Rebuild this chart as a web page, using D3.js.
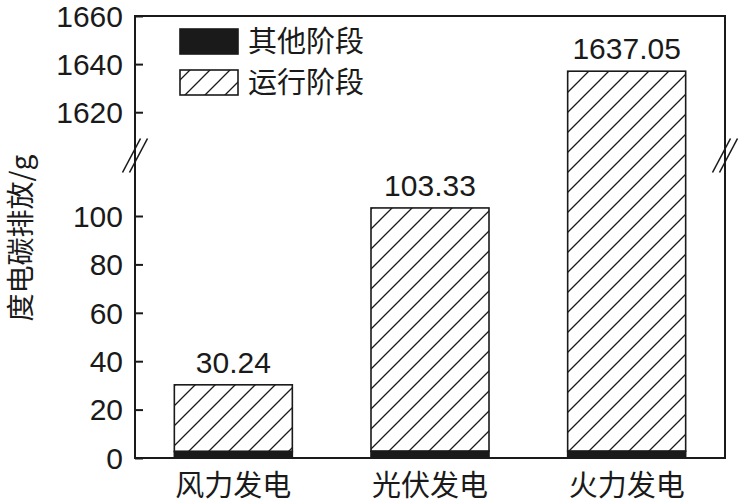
<!DOCTYPE html>
<html><head><meta charset="utf-8">
<script src="https://cdn.jsdelivr.net/npm/d3@7"></script>
<style>body{margin:0;background:#fff}svg{display:block}</style>
</head><body>
<svg id="c" width="742" height="504"></svg>
<script>
const categories = ["风力发电", "光伏发电", "火力发电"];
const totalValues = [30.24, 103.33, 1637.05];
const otherStage = [2.7, 2.8, 2.8];
const seriesNames = ["其他阶段", "运行阶段"];
const lowerTicks = [0, 20, 40, 60, 80, 100];
const upperTicks = [1620, 1640, 1660];

const svg = d3.select("#c");
const L = 135, R = 725, T = 16, B = 458;
const font = "'Liberation Sans', Arial, 'Noto Sans CJK SC', sans-serif";
const cjk = "'Noto Sans CJK SC', 'Liberation Sans', sans-serif";
const ink = "#1a1a1a";

// broken y scale: lower segment 0..125, upper 1602..1660
const y = d3.scaleLinear().domain([0, 125, 1602, 1660]).range([B, 155.5, 155.5, T]);
const x = d3.scaleBand().domain(categories).range([L, R]).paddingInner(0.4).paddingOuter(0.2);

const defs = svg.append("defs");
const pat = defs.append("pattern").attr("id", "hatch").attr("patternUnits", "userSpaceOnUse")
  .attr("width", 20).attr("height", 20);
pat.append("rect").attr("width", 20).attr("height", 20).attr("fill", "#fff");
pat.append("path").attr("d", "M-5,5 L5,-5 M0,20 L20,0 M15,25 L25,15")
  .attr("stroke", ink).attr("stroke-width", 1.3);

const data = categories.map((c, i) => ({c, other: otherStage[i], total: totalValues[i]}));

// hatched (运行阶段)
svg.selectAll("rect.run").data(data).join("rect").attr("class", "run")
  .attr("x", d => x(d.c)).attr("width", x.bandwidth())
  .attr("y", d => y(d.total)).attr("height", d => y(d.other) - y(d.total))
  .attr("fill", "url(#hatch)").attr("stroke", ink).attr("stroke-width", 1.6);
// black (其他阶段)
svg.selectAll("rect.oth").data(data).join("rect").attr("class", "oth")
  .attr("x", d => x(d.c)).attr("width", x.bandwidth())
  .attr("y", d => y(d.other)).attr("height", d => y(0) - y(d.other))
  .attr("fill", ink).attr("stroke", ink).attr("stroke-width", 1.6);

// value labels
svg.selectAll("text.val").data(data).join("text").attr("class", "val")
  .attr("x", d => x(d.c) + x.bandwidth() / 2).attr("y", d => y(d.total) - 12)
  .attr("text-anchor", "middle").attr("font-family", font).attr("font-size", 30).attr("fill", ink)
  .text(d => d.total.toFixed(2));

// frame
const frame = svg.append("g").attr("stroke", ink).attr("stroke-width", 2).attr("fill", "none");
frame.append("rect").attr("x", L).attr("y", T).attr("width", R - L).attr("height", B - T);

// y axis ticks (inward)
const yAxis = d3.axisRight(y).tickValues(lowerTicks.concat(upperTicks)).tickSize(8).tickFormat("");
const ga = svg.append("g").attr("transform", `translate(${L},0)`).call(yAxis);
ga.select(".domain").remove();
ga.selectAll("line").attr("stroke", ink).attr("stroke-width", 2);
svg.selectAll("text.yt").data(lowerTicks.concat(upperTicks)).join("text").attr("class", "yt")
  .attr("x", L - 12).attr("y", d => y(d)).attr("dy", "0.36em")
  .attr("text-anchor", "end").attr("font-family", font).attr("font-size", 30).attr("fill", ink)
  .text(d => d);

// break marks
const breakY = y(125);
[L, R].forEach(px => {
  [-3.5, 3.5].forEach(off => {
    svg.append("line").attr("x1", px - 9 + off).attr("y1", breakY + 17)
      .attr("x2", px + 9 + off).attr("y2", breakY - 17)
      .attr("stroke", ink).attr("stroke-width", 1.6);
  });
});

// x labels
svg.selectAll("text.xt").data(categories).join("text").attr("class", "xt")
  .attr("x", d => x(d) + x.bandwidth() / 2).attr("y", 496)
  .attr("text-anchor", "middle").attr("font-family", cjk).attr("font-size", 29).attr("fill", ink)
  .text(d => d);

// y title
svg.append("text").attr("transform", "translate(31,238) rotate(-90)")
  .attr("text-anchor", "middle").attr("font-family", cjk).attr("font-size", 28).attr("fill", ink)
  .text("度电碳排放/g");

// legend
const lg = svg.append("g");
const fills = [ink, "url(#hatch)"];
seriesNames.forEach((s, i) => {
  const yy = 29 + i * 41;
  lg.append("rect").attr("x", 180).attr("y", yy).attr("width", 58).attr("height", 25)
    .attr("fill", fills[i]).attr("stroke", ink).attr("stroke-width", 1.6);
  lg.append("text").attr("x", 248).attr("y", yy + 12.5).attr("dy", "0.36em")
    .attr("font-family", cjk).attr("font-size", 29).attr("fill", ink).text(s);
});
</script>
</body></html>
